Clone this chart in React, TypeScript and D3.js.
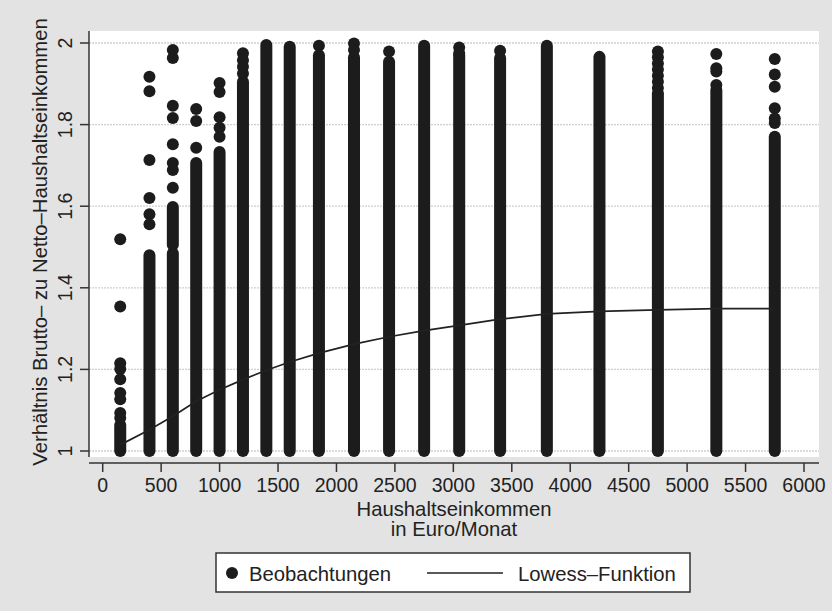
import React from "react";
import * as d3 from "d3";

// ---- data ----
const incomeLevels = [150, 400, 600, 800, 1000, 1200, 1400, 1600, 1850, 2150, 2450, 2750, 3050, 3400, 3800, 4250, 4750, 5250, 5750];

// continuous (overplotted) bands of observations per income level: [low, high]
const denseBands: number[][][] = [
  [[1, 1.064]],
  [[1, 1.48]],
  [[1, 1.485], [1.505, 1.598]],
  [[1, 1.706]],
  [[1, 1.733]],
  [[1, 1.905]],
  [[1, 1.995]],
  [[1, 1.991]],
  [[1, 1.97]],
  [[1, 1.965]],
  [[1, 1.954]],
  [[1, 1.993]],
  [[1, 1.97]],
  [[1, 1.963]],
  [[1, 1.993]],
  [[1, 1.966]],
  [[1, 1.877]],
  [[1, 1.885]],
  [[1, 1.77]],
];

// isolated observations per income level
const sparseRatios: number[][] = [
  [1.519, 1.354, 1.215, 1.201, 1.176, 1.142, 1.127, 1.093, 1.081],
  [1.917, 1.882, 1.713, 1.62, 1.58, 1.556],
  [1.983, 1.963, 1.846, 1.816, 1.752, 1.706, 1.689, 1.645],
  [1.838, 1.809, 1.743],
  [1.902, 1.88, 1.818, 1.792, 1.77],
  [1.975, 1.958, 1.942, 1.925],
  [],
  [],
  [1.993],
  [1.999, 1.983],
  [1.979],
  [],
  [1.989, 1.975],
  [1.981],
  [],
  [],
  [1.979, 1.965, 1.95, 1.935, 1.92, 1.905, 1.89],
  [1.973, 1.938, 1.93, 1.897],
  [1.961, 1.923, 1.893, 1.84, 1.815, 1.804],
];

const lowessValues = [1.015, 1.052, 1.085, 1.122, 1.15, 1.175, 1.198, 1.218, 1.24, 1.262, 1.28, 1.295, 1.308, 1.323, 1.336, 1.342, 1.346, 1.349, 1.349];

const xTicks = [0, 500, 1000, 1500, 2000, 2500, 3000, 3500, 4000, 4500, 5000, 5500, 6000];
const yTicks = [1, 1.2, 1.4, 1.6, 1.8, 2];

const yTitle = "Verhältnis Brutto– zu Netto–Haushaltseinkommen";
const xTitle1 = "Haushaltseinkommen";
const xTitle2 = "in Euro/Monat";
const legendLabels = ["Beobachtungen", "Lowess–Funktion"];

export default function App() {
  const W = 832, H = 611;
  const plot = { left: 89, right: 819, top: 31, bottom: 457 };
  const xAxisY = 463;
  const x = d3.scaleLinear().domain([0, 6000]).range([102.7, 804]);
  const y = d3.scaleLinear().domain([1, 2]).range([451, 43]);
  const font = "'Liberation Sans', Arial, Helvetica, sans-serif";
  const ink = "#1c1c1c";
  const r = 6;

  const lowessLine = d3
    .line<number>()
    .x((_, i) => x(incomeLevels[i]))
    .y((v) => y(v))(lowessValues) as string;

  const fmt = (v: number) => (Number.isInteger(v) ? String(v) : v.toFixed(1));

  return (
    <svg
      width={W}
      height={H}
      style={{ position: "absolute", left: 0, top: 0, display: "block" }}
      fontFamily={font}
    >
      <rect x={0} y={0} width={W} height={H} fill="#e3e3e3" />
      <rect
        x={plot.left}
        y={plot.top}
        width={plot.right - plot.left}
        height={plot.bottom - plot.top}
        fill="#ffffff"
      />
      {/* grid */}
      {yTicks.map((t) => (
        <line
          key={"g" + t}
          x1={plot.left}
          x2={plot.right}
          y1={y(t)}
          y2={y(t)}
          stroke="#cfcfcf"
          strokeWidth={1.3}
          strokeDasharray="2 1"
        />
      ))}
      {/* observations: dense bands */}
      {incomeLevels.map((inc, i) =>
        denseBands[i].map((b, j) => (
          <line
            key={"d" + i + "-" + j}
            x1={x(inc)}
            x2={x(inc)}
            y1={y(b[0])}
            y2={y(b[1])}
            stroke={ink}
            strokeWidth={2 * r}
            strokeLinecap="round"
          />
        ))
      )}
      {/* observations: isolated points */}
      {incomeLevels.map((inc, i) =>
        sparseRatios[i].map((v, j) => (
          <circle key={"s" + i + "-" + j} cx={x(inc)} cy={y(v)} r={r} fill={ink} />
        ))
      )}
      {/* lowess */}
      <path d={lowessLine} fill="none" stroke="#222" strokeWidth={1.7} />

      {/* y axis */}
      <line x1={plot.left} x2={plot.left} y1={plot.top} y2={plot.bottom} stroke="#333" strokeWidth={1.5} />
      {yTicks.map((t) => (
        <g key={"yt" + t}>
          <line x1={plot.left - 9} x2={plot.left} y1={y(t)} y2={y(t)} stroke="#333" strokeWidth={1.5} />
          <text
            transform={`translate(72,${y(t)}) rotate(-90)`}
            textAnchor="middle"
            fontSize={19.5}
            fill="#222"
          >
            {fmt(t)}
          </text>
        </g>
      ))}
      <text
        transform={`translate(47,${(plot.top + plot.bottom) / 2 - 2}) rotate(-90)`}
        textAnchor="middle"
        fontSize={20.3}
        fill="#222"
      >
        {yTitle}
      </text>

      {/* x axis */}
      <line x1={plot.left} x2={plot.right} y1={xAxisY} y2={xAxisY} stroke="#333" strokeWidth={1.5} />
      {xTicks.map((t) => (
        <g key={"xt" + t}>
          <line x1={x(t)} x2={x(t)} y1={xAxisY} y2={xAxisY + 9} stroke="#333" strokeWidth={1.5} />
          <text x={x(t)} y={492} textAnchor="middle" fontSize={19.5} fill="#222">
            {t}
          </text>
        </g>
      ))}
      <text x={(plot.left + plot.right) / 2} y={516} textAnchor="middle" fontSize={20.3} fill="#222">
        {xTitle1}
      </text>
      <text x={(plot.left + plot.right) / 2} y={536} textAnchor="middle" fontSize={20.3} fill="#222">
        {xTitle2}
      </text>

      {/* legend */}
      <rect x={216} y={553} width={474} height={39} fill="#ffffff" stroke="#333" strokeWidth={1.5} />
      <circle cx={232} cy={573} r={r} fill={ink} />
      <text x={249} y={581} fontSize={20.3} fill="#222">
        {legendLabels[0]}
      </text>
      <line x1={427} x2={503} y1={573} y2={573} stroke="#222" strokeWidth={1.7} />
      <text x={518} y={581} fontSize={20.3} fill="#222">
        {legendLabels[1]}
      </text>
    </svg>
  );
}
